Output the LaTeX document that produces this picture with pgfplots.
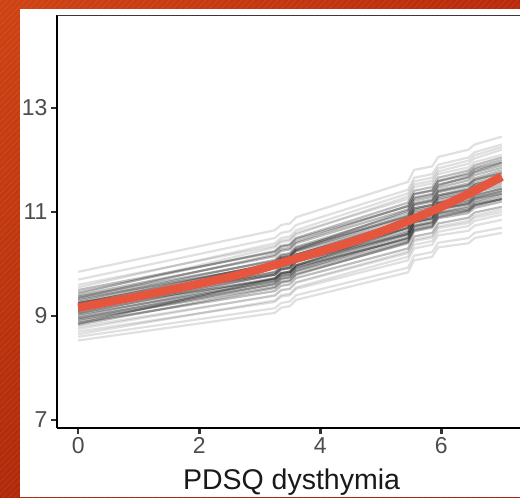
\documentclass[border=0pt]{standalone}
\usepackage{fontspec}
\setmainfont{Liberation Sans}
\usepackage{pgfplots}
\usepackage{pgfplotstable}
\pgfplotsset{compat=1.18}
\usetikzlibrary{shadings}
\definecolor{bgA}{HTML}{CE4212}
\definecolor{bgB}{HTML}{B9280A}
\definecolor{bgC}{HTML}{B02808}
\definecolor{bgD}{HTML}{A82008}
\definecolor{redline}{HTML}{E6553D}
\definecolor{ticklab}{HTML}{4D4D4D}

% gray ensemble lines: x and 40 series
\pgfplotstableread{
x y1 y2 y3 y4 y5 y6 y7 y8 y9 y10 y11 y12 y13 y14 y15 y16 y17 y18 y19 y20 y21 y22 y23 y24 y25 y26 y27 y28 y29 y30 y31 y32 y33 y34 y35 y36 y37 y38 y39 y40
0    9.85 9.70 9.60 9.55 9.50 9.45 9.40 9.35 9.33 9.30 9.27 9.25 9.23 9.20 9.18 9.15 9.13 9.10 9.07 9.05 9.03 9.00 8.97 8.95 8.93 8.90 8.87 8.83 8.79 8.75 8.70 8.65 8.60 8.53 9.43 9.10 9.25 8.85 9.37 9.15
3.25 10.65 10.50 10.35 10.40 10.23 10.25 10.15 10.18 9.99 10.08 10.01 9.93 10.02 9.93 9.84 9.93 9.79 9.85 9.73 9.80 9.66 9.72 9.61 9.67 9.56 9.62 9.48 9.54 9.39 9.40 9.27 9.30 9.15 9.06 10.32 10.03 9.80 9.72 10.06 9.70
3.35 10.75 10.60 10.45 10.50 10.33 10.35 10.25 10.28 10.09 10.18 10.11 10.03 10.12 10.03 9.94 10.03 9.89 9.95 9.83 9.90 9.76 9.82 9.71 9.77 9.66 9.72 9.58 9.64 9.49 9.50 9.37 9.40 9.25 9.16 10.42 10.13 9.90 9.82 10.16 9.80
3.5  10.78 10.63 10.48 10.53 10.36 10.38 10.28 10.31 10.12 10.21 10.14 10.06 10.15 10.06 9.97 10.06 9.92 9.98 9.86 9.93 9.79 9.85 9.74 9.80 9.69 9.75 9.61 9.67 9.52 9.53 9.40 9.43 9.28 9.19 10.45 10.16 9.93 9.85 10.19 9.83
3.6  10.90 10.75 10.60 10.65 10.48 10.50 10.40 10.43 10.24 10.33 10.26 10.18 10.27 10.18 10.09 10.18 10.04 10.10 9.98 10.05 9.91 9.97 9.86 9.92 9.81 9.87 9.73 9.79 9.64 9.65 9.52 9.55 9.40 9.31 10.57 10.28 10.05 9.97 10.31 9.95
5.45 11.58 11.43 11.25 11.36 11.11 11.18 11.05 11.12 10.84 10.99 10.90 10.78 10.94 10.81 10.69 10.84 10.64 10.75 10.58 10.70 10.50 10.61 10.44 10.56 10.40 10.51 10.30 10.42 10.21 10.24 10.07 10.14 9.93 9.84 11.30 11.03 10.58 10.70 10.92 10.48
5.55 11.81 11.66 11.48 11.59 11.34 11.41 11.28 11.35 11.07 11.22 11.13 11.01 11.17 11.04 10.92 11.07 10.87 10.98 10.81 10.93 10.73 10.84 10.67 10.79 10.63 10.74 10.53 10.65 10.44 10.47 10.30 10.37 10.16 10.07 11.53 11.26 10.81 10.93 11.15 10.71
5.85 11.88 11.73 11.55 11.66 11.41 11.48 11.35 11.42 11.14 11.29 11.20 11.08 11.24 11.11 10.99 11.14 10.94 11.05 10.88 11.00 10.80 10.91 10.74 10.86 10.70 10.81 10.60 10.72 10.51 10.54 10.37 10.44 10.23 10.14 11.60 11.33 10.88 11.00 11.22 10.78
5.95 12.06 11.91 11.73 11.84 11.59 11.66 11.53 11.60 11.32 11.47 11.38 11.26 11.42 11.29 11.17 11.32 11.12 11.23 11.06 11.18 10.98 11.09 10.92 11.04 10.88 10.99 10.78 10.90 10.69 10.72 10.55 10.62 10.41 10.32 11.78 11.51 11.06 11.18 11.40 10.96
6.45 12.20 12.05 11.86 11.99 11.72 11.80 11.66 11.75 11.43 11.61 11.51 11.38 11.55 11.42 11.28 11.46 11.23 11.36 11.18 11.31 11.08 11.21 11.03 11.16 10.98 11.11 10.89 11.02 10.79 10.83 10.64 10.73 10.50 10.40 11.93 11.68 11.15 11.34 11.52 11.05
6.55 12.30 12.15 11.96 12.09 11.82 11.90 11.76 11.85 11.53 11.71 11.61 11.48 11.65 11.52 11.38 11.56 11.33 11.46 11.28 11.41 11.18 11.31 11.13 11.26 11.08 11.21 10.99 11.12 10.89 10.93 10.74 10.83 10.60 10.50 12.03 11.78 11.25 11.44 11.62 11.15
7    12.45 12.30 12.10 12.25 11.95 12.05 11.90 12.00 11.65 11.85 11.75 11.60 11.80 11.65 11.50 11.70 11.45 11.60 11.40 11.55 11.30 11.45 11.25 11.40 11.20 11.35 11.10 11.25 11.00 11.05 10.85 10.95 10.70 10.60 12.20 11.95 11.35 11.60 11.75 11.25
}\lines

\pgfplotstableread{
x y
0   9.16
0.5 9.27
1   9.38
1.5 9.50
2   9.62
2.5 9.75
3   9.90
3.5 10.07
4   10.24
4.5 10.42
5   10.62
5.5 10.85
6   11.10
6.5 11.38
7   11.68
}\meancurve

\begin{document}
\begin{tikzpicture}[x=1pt,y=1pt]
\useasboundingbox (0,0) rectangle (520,498);
\clip (0,0) rectangle (520,498);
\shade[upper left=bgA, upper right=bgB, lower left=bgC, lower right=bgD] (0,0) rectangle (520,498);
\foreach \i in {-520,-514,...,520} {
  \draw[white, opacity=0.05, line width=2pt] (\i,0) -- ++(498,498);
}
\fill[white] (20,1) rectangle (530,489);
\begin{axis}[
  at={(57pt,70pt)}, anchor=south west,
  scale only axis, width=469pt, height=413pt,
  xmin=-0.35, xmax=7.4, ymin=6.846, ymax=14.79,
  axis x line*=bottom, axis y line*=left,
  axis line style={-, black, line width=2.8pt},
  xtick={0,2,4,6}, ytick={7,9,11,13},
  tick pos=left,
  tick align=outside, major tick length=6pt,
  tick style={line width=2.6pt, color=black!80},
  /pgf/number format/assume math mode=true,
  tick label style={font=\fontsize{23}{23}\selectfont, text=ticklab},
  xlabel={PDSQ dysthymia},
  xlabel style={font=\fontsize{28.5}{30}\selectfont, text=black!90, at={(axis description cs:0.5,0)}, anchor=base, yshift=-62pt},
  clip=true,
]
\foreach \k in {1,2,3,4,29,30,31,32,33,34,35} {
  \addplot[black, line width=2.2pt, draw opacity=0.12, forget plot] table[x=x, y=y\k] {\lines};
}
\foreach \k in {5,...,28,36,37,38,39,40} {
  \addplot[black, line width=2.2pt, draw opacity=0.26, forget plot] table[x=x, y=y\k] {\lines};
}
\addplot[redline, line width=8.5pt, smooth] table[x=x, y=y] {\meancurve};
\draw[black!78, line width=2.8pt] (rel axis cs:0,1) -- (rel axis cs:1,1);
\end{axis}
\end{tikzpicture}
\end{document}
